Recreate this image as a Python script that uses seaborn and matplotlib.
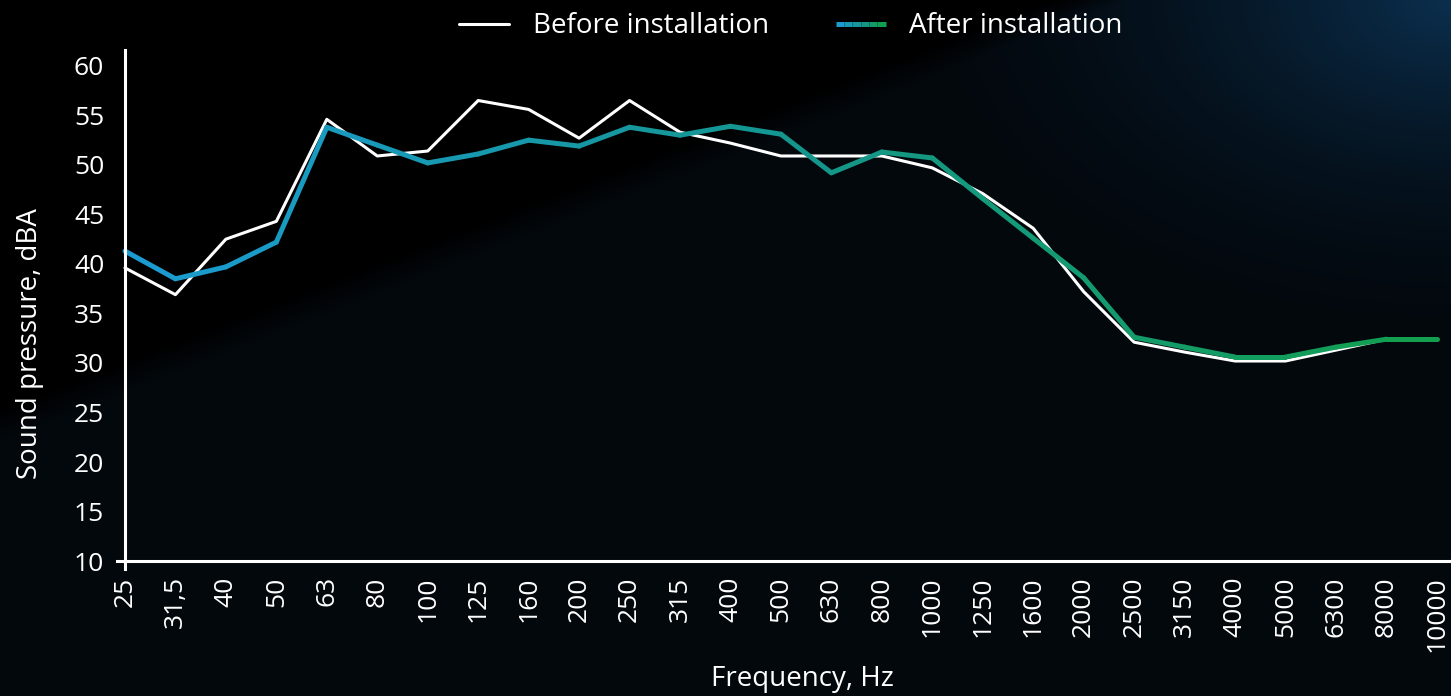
import numpy as np
import pandas as pd
import seaborn as sns
import matplotlib.pyplot as plt
from matplotlib.collections import LineCollection
from matplotlib.colors import LinearSegmentedColormap, to_rgb
from matplotlib.lines import Line2D
from matplotlib.legend_handler import HandlerBase

freq = ['25', '31,5', '40', '50', '63', '80', '100', '125', '160', '200', '250',
        '315', '400', '500', '630', '800', '1000', '1250', '1600', '2000', '2500',
        '3150', '4000', '5000', '6300', '8000', '10000']
before = [39.6, 36.9, 42.5, 44.3, 54.6, 50.9, 51.4, 56.5, 55.6, 52.7, 56.5,
          53.3, 52.2, 50.9, 50.9, 50.9, 49.7, 47.1, 43.6, 37.2, 32.1,
          31.1, 30.2, 30.2, 31.3, 32.4, 32.4]
after = [41.3, 38.5, 39.7, 42.2, 53.8, 52.0, 50.2, 51.1, 52.5, 51.9, 53.8,
         53.0, 53.9, 53.1, 49.2, 51.3, 50.7, 46.6, 42.6, 38.6, 32.6,
         31.6, 30.6, 30.6, 31.6, 32.4, 32.4]
yticks = [10, 15, 20, 25, 30, 35, 40, 45, 50, 55, 60]

df = pd.DataFrame({'pos': range(len(freq)), 'before': before, 'after': after})

sns.set_theme(style='dark')
plt.rcParams['font.family'] = ['Open Sans', 'DejaVu Sans']

grad = LinearSegmentedColormap.from_list('grad', ['#1b9bd0', '#14968f', '#12a050'])

W, H = 1451, 696
fig = plt.figure(figsize=(W / 100, H / 100), dpi=100)
fig.patch.set_facecolor('black')

# background: black upper-left, very dark navy lower-right, soft glow in the top-right corner
yy, xx = np.mgrid[0:H, 0:W]
edge = yy - (80 + (883 - xx) * 0.39)
soft = np.clip(edge / 30 + 0.5, 0, 1)
base = np.array(to_rgb('#03080d'))
corner = np.array(to_rgb('#0b2f4e'))
d = np.sqrt((xx - W) ** 2 + (yy * 1.6) ** 2)
t = np.clip(1 - d / 560, 0, 1) ** 1.8
img = base[None, None, :] + t[..., None] * (corner - base)[None, None, :]
img = img * soft[..., None]
bg = fig.add_axes([0, 0, 1, 1])
bg.imshow(img, aspect='auto', interpolation='bilinear')
bg.axis('off')

ax = fig.add_axes([117.4 / W, (H - 569) / H, (W - 117.4) / W, (569 - 50) / H])
ax.set_facecolor('none')

sns.lineplot(data=df, x='pos', y='before', color='white', lw=2.2, ax=ax,
             solid_joinstyle='round')

pts = df[['pos', 'after']].to_numpy()
segs = np.stack([pts[:-1], pts[1:]], axis=1)
lc = LineCollection(segs, colors=grad(np.linspace(0, 1, len(segs))), linewidths=3.6,
                    capstyle='round', joinstyle='round')
ax.add_collection(lc)

ax.set_xlim(-0.15, 26.28)
ax.set_ylim(9.2, 61.6)
ax.spines['left'].set_position(('data', 0))
ax.spines['bottom'].set_position(('data', 10))
for s in ['top', 'right']:
    ax.spines[s].set_visible(False)
for s in ['left', 'bottom']:
    ax.spines[s].set_color('white')
    ax.spines[s].set_linewidth(2.2)

ax.set_xticks(df['pos'])
ax.set_xticklabels(freq, rotation=90)
ax.set_yticks(yticks)
ax.tick_params(axis='both', length=0, colors='white', labelsize=19)
ax.tick_params(axis='y', pad=15)
ax.tick_params(axis='x', pad=11)
ax.grid(False)

ax.set_ylabel('Sound pressure, dBA', color='white', fontsize=20)
ax.set_xlabel('Frequency, Hz', color='white', fontsize=20)
ax.yaxis.set_label_coords(-0.055, 0.435)
ax.xaxis.set_label_coords(0.514, -0.185)


class GradHandler(HandlerBase):
    def create_artists(self, legend, orig, xd, yd, width, height, fontsize, trans):
        xs = np.linspace(-xd, -xd + width, 7)
        y = -yd + height / 2
        sg = [[(xs[i], y), (xs[i + 1], y)] for i in range(len(xs) - 1)]
        c = LineCollection(sg, colors=grad(np.linspace(0, 1, len(sg))), linewidths=3.6,
                           transform=trans)
        return [c]


h_before = Line2D([], [], color='white', lw=2.2)
h_after = Line2D([], [], color='#14968f', lw=3.6)
fig.legend([h_before, h_after], ['Before installation', 'After installation'],
           handler_map={h_after: GradHandler()},
           loc='upper center', bbox_to_anchor=(0.545, 1.018), ncol=2, frameon=False,
           fontsize=20, labelcolor='white', handlelength=1.8, handletextpad=0.85,
           columnspacing=2.4)

fig.savefig('out.png', dpi=100, facecolor='black')
